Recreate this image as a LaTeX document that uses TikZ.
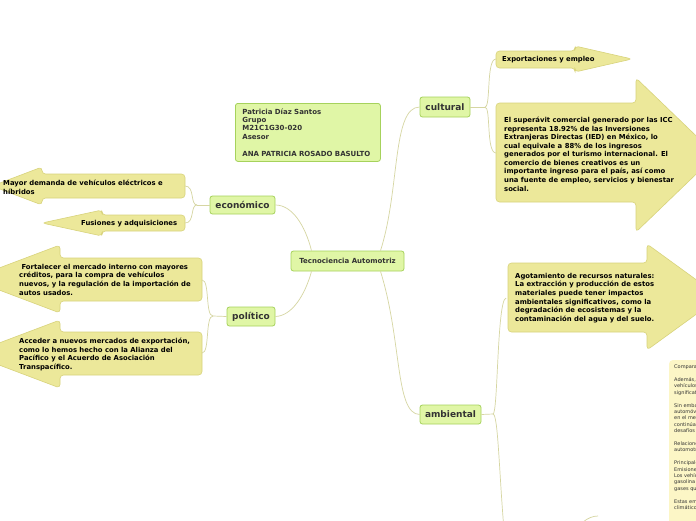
\documentclass[tikz,border=0pt]{standalone}
\usepackage{fontspec}
\setmainfont{DejaVu Sans}
\definecolor{grfill}{HTML}{E0F6A6}
\definecolor{grbrd}{HTML}{A6D25C}
\definecolor{yfill}{HTML}{ECE89A}
\definecolor{ybrd}{HTML}{D8D37C}
\definecolor{pale}{HTML}{FCF6C6}
\definecolor{conn}{HTML}{D6D6A2}
\definecolor{dtext}{HTML}{333333}
\tikzset{
  branch/.style={draw=grbrd, fill=grfill, rounded corners=2.5pt, line width=0.8pt,
    font=\bfseries\fontsize{9}{10}\selectfont, text=dtext, inner sep=0pt},
  arrowshape/.style={fill=yfill, draw=ybrd, line width=0.6pt, rounded corners=3.5pt},
  txt/.style={font=\bfseries\fontsize{6.85}{8.55}\selectfont, align=left, anchor=north west, inner sep=0pt, text=black},
  con/.style={draw=conn, line width=0.7pt},
}
\begin{document}
\begin{tikzpicture}[x=1pt,y=-1pt]
\useasboundingbox (0,0) rectangle (696,520);
\fill[white] (0,0) rectangle (696,520);
\begin{scope}
\clip (0,0) rectangle (696,520);

% ---------- arrow shapes ----------
\draw[arrowshape] (496,51) -- (575,51) -- (575,46) -- (632,59) -- (575,72) -- (575,68) -- (496,68) -- cycle;
\draw[arrowshape] (496,103) -- (636,103) -- (636,78) -- (716,155) -- (636,232) -- (636,202) -- (496,202) -- cycle;
\draw[arrowshape] (185,174) -- (42,174) -- (42,167) -- (-8,186) -- (42,205) -- (42,198) -- (185,198) -- cycle;
\draw[arrowshape] (185,215) -- (102,215) -- (102,210) -- (42,223) -- (102,236) -- (102,231) -- (185,231) -- cycle;
\draw[arrowshape] (202,258) -- (60,258) -- (60,245) -- (-30,279) -- (60,313) -- (60,301) -- (202,301) -- cycle;
\draw[arrowshape] (202,332) -- (60,332) -- (60,320) -- (-30,354) -- (60,388) -- (60,375) -- (202,375) -- cycle;
\draw[arrowshape] (508,263) -- (647,263) -- (647,244) -- (720,297) -- (647,350) -- (647,332) -- (508,332) -- cycle;
\fill[pale, rounded corners=4pt] (669,360) rectangle (720,540);

% ---------- named coordinates for connector ends ----------
\coordinate (expL) at (496,59);
\coordinate (supL) at (496,153);
\coordinate (mayR) at (185,186);
\coordinate (fusR) at (185,223);
\coordinate (forR) at (202,280);
\coordinate (accR) at (202,353);
\coordinate (agoL) at (506,298);
\coordinate (downEnd) at (504,530);
\coordinate (culF) at (485,107);
\coordinate (ecoF) at (197,205);
\coordinate (polF) at (213,316);
\coordinate (ambF) at (493,414);
\coordinate (smallA) at (583,522);
\coordinate (smallB) at (598,516);

% ---------- nodes ----------
\node[branch, minimum width=113pt, minimum height=20pt, font=\bfseries\fontsize{7}{8}\selectfont] (cen) at (347.5,261) {Tecnociencia Automotriz};
\node[branch] (cul) at (445,107) [minimum width=50pt, minimum height=20pt] {cultural};
\node[branch] (eco) at (242.5,205) [minimum width=65pt, minimum height=18pt] {económico};
\node[branch] (pol) at (251,316.5) [minimum width=48pt, minimum height=19pt] {político};
\node[branch] (amb) at (450.5,414.5) [minimum width=61pt, minimum height=19pt] {ambiental};

\node[branch, minimum width=145pt, minimum height=58pt, anchor=north west, inner xsep=7pt,
  font=\bfseries\fontsize{7}{8.4}\selectfont, align=left, text width=131pt] (pat) at (235,103)
  {Patricia Díaz Santos\\Grupo\\M21C1G30-020\\Asesor\\[8.4pt]ANA PATRICIA ROSADO BASULTO};

\node[txt] (exp) at (502,56.5) {Exportaciones y empleo};
\node[txt] (sup) at (504,117) {El superávit comercial generado por las ICC\\representa 18.92\% de las Inversiones\\Extranjeras Directas (IED) en México, lo\\cual equivale a 88\% de los ingresos\\generados por el turismo internacional. El\\comercio de bienes creativos es un\\importante ingreso para el país, así como\\una fuente de empleo, servicios y bienestar\\social.};
\node[txt] (may) at (3,180) {Mayor demanda de vehículos eléctricos e\\híbridos};
\node[txt] (fus) at (81,220.5) {Fusiones y adquisiciones};
\node[txt] (for) at (19,264) {\ Fortalecer el mercado interno con mayores\\créditos, para la compra de vehículos\\nuevos, y la regulación de la importación de\\autos usados.};
\node[txt] (acc) at (19,338) {Acceder a nuevos mercados de exportación,\\como lo hemos hecho con la Alianza del\\Pacífico y el Acuerdo de Asociación\\Transpacífico.};
\node[txt] (ago) at (515,273) {Agotamiento de recursos naturales:\\La extracción y producción de estos\\materiales puede tener impactos\\ambientales significativos, como la\\degradación de ecosistemas y la\\contaminación del agua y del suelo.};

\node[txt, font=\fontsize{5}{6.4}\selectfont, text=dtext] (cmp) at (674,364.5)
 {Comparación\\[6.4pt]Además, los\\vehículos\\significativos\\[6.4pt]Sin embargo,\\automóviles\\en el mercado\\continúan\\desafíos\\[6.4pt]Relaciones\\automotrices\\[6.4pt]Principales\\Emisiones\\Los vehículos\\gasolina\\gases que\\[6.4pt]Estas emisiones\\climático};

% ---------- connectors ----------
\draw[con] (cen.north) ++(-36,0) .. controls (305,225) and (292,205) .. (eco.east);
\draw[con] (cen.south) ++(-36,0) .. controls (305,295) and (292,316) .. (pol.east);
\draw[con] (cen.north) ++(33,0) .. controls (400,190) and (392,107) .. (cul.west);
\draw[con] (cen.south) ++(33,0) .. controls (402,340) and (395,414) .. (amb.west);

\draw[con] (cul.east) -- (culF);
\draw[con] (culF) .. controls (491,107) and (486,59) .. (expL);
\draw[con] (culF) .. controls (491,107) and (486,153) .. (supL);

\draw[con] (eco.west) -- (ecoF);
\draw[con] (ecoF) .. controls (190,205) and (195,186) .. (mayR);
\draw[con] (ecoF) .. controls (190,205) and (195,223) .. (fusR);

\draw[con] (pol.west) -- (polF);
\draw[con] (polF) .. controls (205,316) and (210,280) .. (forR);
\draw[con] (polF) .. controls (205,316) and (210,353) .. (accR);

\draw[con] (amb.east) -- (ambF);
\draw[con] (ambF) .. controls (498,414) and (497,300) .. (agoL);
\draw[con] (ambF) .. controls (498,414) and (499,470) .. (downEnd);
\draw[con] (smallA) .. controls (588,518) and (593,516) .. (smallB);
\end{scope}
\end{tikzpicture}
\end{document}
